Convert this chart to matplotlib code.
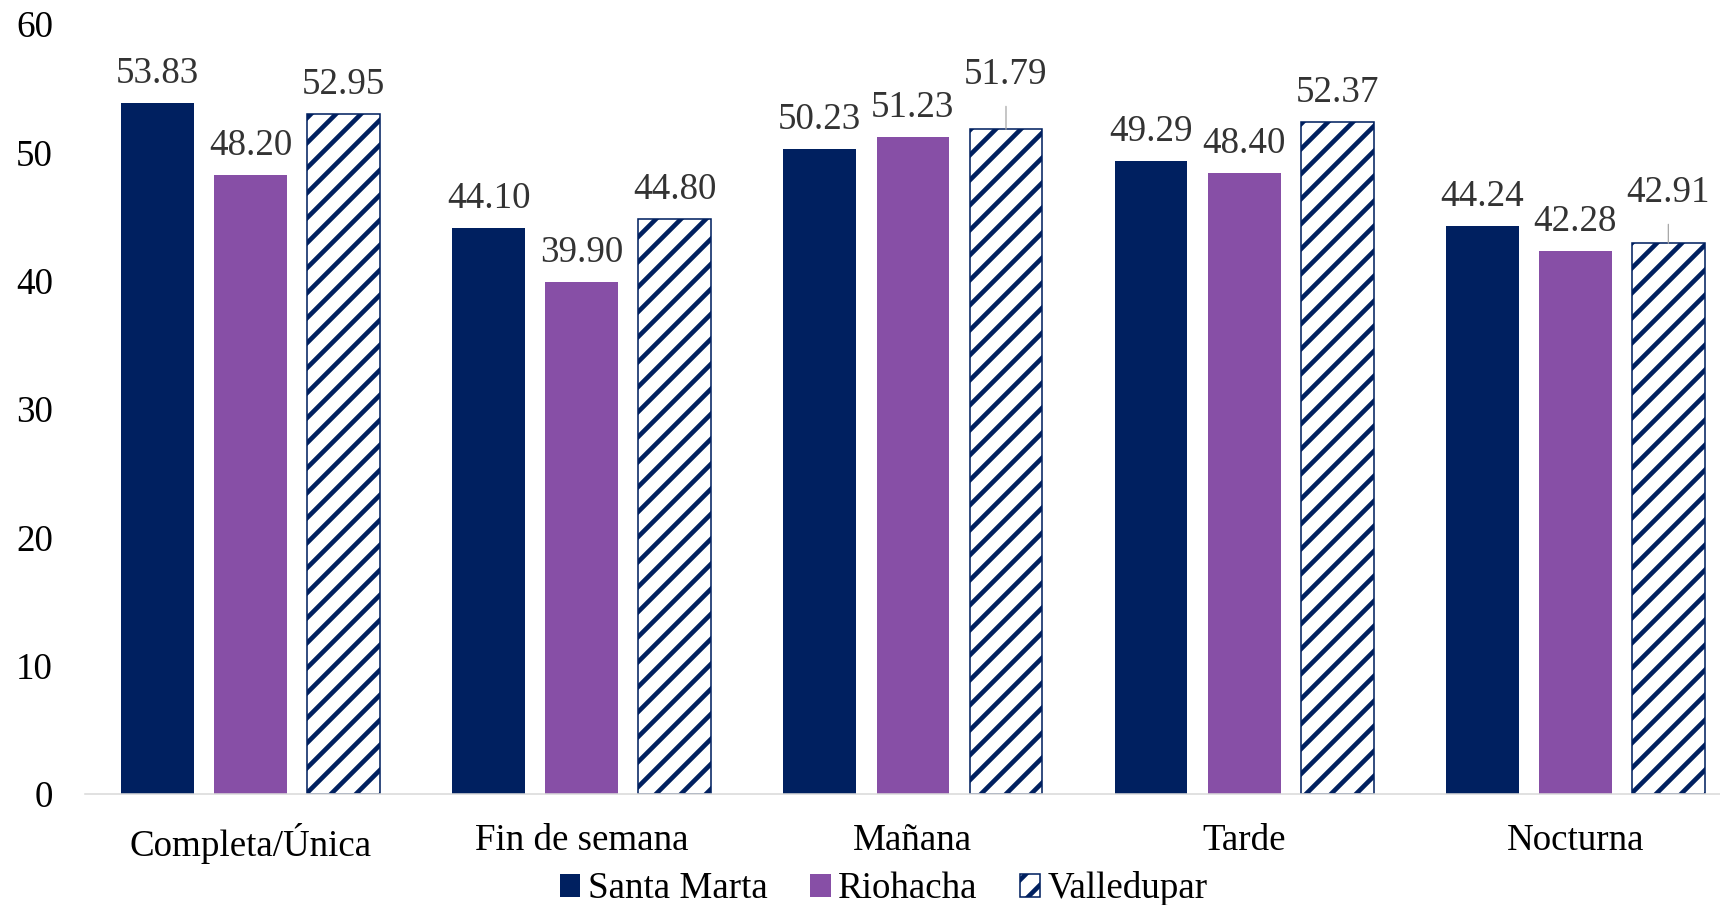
import matplotlib.pyplot as plt
import numpy as np

DPI = 75
PT = 72 / DPI  # px -> pt

plt.rcParams['font.family'] = ['Liberation Serif', 'DejaVu Serif']
plt.rcParams['hatch.linewidth'] = 4.6 * PT

categorias = ["Completa/Única", "Fin de semana", "Mañana", "Tarde", "Nocturna"]
santa_marta = [53.83, 44.10, 50.23, 49.29, 44.24]
riohacha = [48.20, 39.90, 51.23, 48.40, 42.28]
valledupar = [52.95, 44.80, 51.79, 52.37, 42.91]

navy = "#002060"
purple = "#874FA6"
label_color = "#333333"
fs = 37 * PT

fig = plt.figure(figsize=(1720 / DPI, 905 / DPI), dpi=DPI)
ax = fig.add_axes([85 / 1720, (905 - 794) / 905, 1 - 85 / 1720, (794 - 24) / 905])

x = np.arange(len(categorias))
w = 0.22
off = 0.281

b1 = ax.bar(x - off, santa_marta, w, color=navy, label="Santa Marta")
b2 = ax.bar(x, riohacha, w, color=purple, label="Riohacha")
b3 = ax.bar(x + off, valledupar, w, color="white", edgecolor=navy, hatch="/",
            linewidth=1.5, label="Valledupar")

# etiquetas; dos de ellas llevan linea guia
leader = {(2, 2): 25 * PT, (4, 2): 21 * PT}
for s, bars in enumerate([b1, b2, b3]):
    for i, bar in enumerate(bars):
        h = bar.get_height()
        cx = bar.get_x() + bar.get_width() / 2
        extra = leader.get((i, s), 0)
        ax.annotate(f"{h:.2f}", (cx, h), xytext=(0, 20 * PT + extra), textcoords="offset points",
                    ha="center", va="baseline", fontsize=fs, color=label_color)
        if extra:
            ax.annotate("", (cx, h), xytext=(0, extra - 2 * PT), textcoords="offset points",
                        arrowprops=dict(arrowstyle="-", color="#A6A6A6", lw=1.2,
                                        shrinkA=0, shrinkB=0))

ax.set_xlim(-0.5, 4.437)
ax.set_ylim(0, 60)
ax.set_yticks(range(0, 61, 10))
ax.set_xticks(x)
ax.set_xticklabels(categorias)
ax.tick_params(axis="both", length=0, labelsize=fs)
ax.tick_params(axis="x", pad=29 * PT)
ax.tick_params(axis="y", pad=32 * PT)
for sp in ["top", "right", "left"]:
    ax.spines[sp].set_visible(False)
ax.spines["bottom"].set_color("#D9D9D9")
ax.spines["bottom"].set_linewidth(1.5)

ax.legend(loc="center", bbox_to_anchor=(884 / 1720, (905 - 889) / 905),
          bbox_transform=fig.transFigure, ncol=3, frameon=False, fontsize=fs,
          handlelength=0.55, handleheight=0.55, handletextpad=0.2, columnspacing=1.15)

fig.savefig("out.png", dpi=DPI)
